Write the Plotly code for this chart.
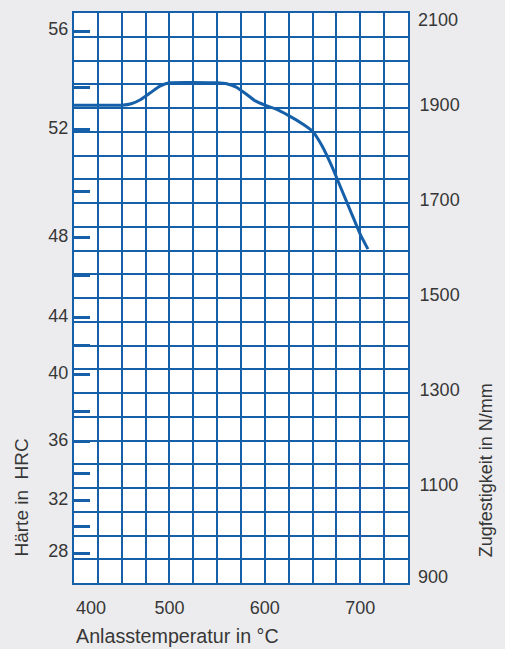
import plotly.graph_objects as go

# ---- data ----
temp_c = [400, 450, 460, 470, 480, 490, 500, 550, 560, 570, 580, 590, 600, 610,
          625, 640, 650, 660, 670, 680, 690, 700, 708]
tensile_mpa = [1906, 1906, 1909, 1918, 1932, 1946, 1953, 1953, 1951, 1944, 1930,
               1915, 1906, 1899, 1884, 1866, 1851, 1820, 1778, 1730, 1682, 1634, 1603]

x_tick_labels = [400, 500, 600, 700]
right_tick_labels = [900, 1100, 1300, 1500, 1700, 1900, 2100]
hrc_marks = [56, 54, 52, 50, 48, 46, 44, 42, 40, 38, 36, 34, 32, 30, 28]
hrc_positions_mpa = [2062, 1943, 1855, 1725, 1628, 1548, 1458, 1401, 1339, 1261,
                     1198, 1131, 1074, 1020, 963]
hrc_labelled = [56, 52, 48, 44, 40, 36, 32, 28]

BLUE = "rgb(22,96,170)"
TXT = "rgb(55,55,55)"
FONT = "Liberation Sans, Arial, sans-serif"
BG = "rgb(236,236,238)"

fig = go.Figure()
# empty trace so the left (hardness) axis is drawn
fig.add_trace(go.Scatter(x=[], y=[], xaxis="x", yaxis="y", mode="lines",
                         hoverinfo="skip", showlegend=False))
fig.add_trace(go.Scatter(
    x=temp_c, y=tensile_mpa, xaxis="x", yaxis="y2", mode="lines",
    line=dict(color=BLUE, width=3, shape="spline", smoothing=0.5),
    hoverinfo="skip", showlegend=False))

x_grid = list(range(400, 751, 25))
x_text = [str(v) if (v in x_tick_labels and v != x_tick_labels[0]) else "" for v in x_grid]
y_grid = list(range(900, 2101, 50))
y_text = [str(v) if (v in right_tick_labels and v not in (right_tick_labels[0], right_tick_labels[-1])) else ""
          for v in y_grid]
hrc_text = [str(v) if v in hrc_labelled else "" for v in hrc_marks]

fig.update_layout(
    width=505, height=649,
    margin=dict(l=74, r=97, t=11, b=66),
    paper_bgcolor=BG, plot_bgcolor="white",
    font=dict(family=FONT, size=18, color=TXT),
    xaxis=dict(range=[400, 750], tickmode="array", tickvals=x_grid, ticktext=x_text,
               showgrid=True, gridcolor=BLUE, gridwidth=2, ticks="",
               showline=True, linecolor=BLUE, linewidth=2, mirror=True,
               zeroline=False, tickfont=dict(size=18, color=TXT), ticklabelstandoff=7),
    yaxis=dict(range=[900, 2100], tickmode="array", tickvals=hrc_positions_mpa,
               ticktext=hrc_text, showgrid=False, ticks="inside", ticklen=16,
               tickwidth=3, tickcolor=BLUE, showline=True, linecolor=BLUE,
               linewidth=2, zeroline=False, tickfont=dict(size=18, color=TXT),
               ticklabelshift=-2),
    yaxis2=dict(range=[900, 2100], overlaying="y", side="right", tickmode="array",
                tickvals=y_grid, ticktext=y_text, showgrid=True, gridcolor=BLUE,
                gridwidth=2, ticks="", showline=True, linecolor=BLUE, linewidth=2,
                zeroline=False, tickfont=dict(size=18, color=TXT), ticklabelstandoff=6,
                ticklabelshift=-3),
)

ann = []
# end labels shifted inward as in the original
ann.append(dict(x=x_tick_labels[0], xref="x", y=0, yref="paper", yanchor="top",
                xanchor="left", yshift=-13, text=str(x_tick_labels[0]), showarrow=False,
                font=dict(size=18, color=TXT)))
ann.append(dict(x=1, xref="paper", xshift=8, xanchor="left", y=right_tick_labels[-1], yref="y2",
                yanchor="top", yshift=5, text=str(right_tick_labels[-1]), showarrow=False,
                font=dict(size=18, color=TXT)))
ann.append(dict(x=1, xref="paper", xshift=8, xanchor="left", y=right_tick_labels[0], yref="y2",
                yanchor="bottom", yshift=-6, text=str(right_tick_labels[0]), showarrow=False,
                font=dict(size=18, color=TXT)))
# axis titles
ann.append(dict(x=0, xref="paper", xanchor="left", xshift=0, y=-0.0927, yref="paper",
                yanchor="middle", text="Anlasstemperatur in °C", showarrow=False,
                font=dict(size=19.7, color=TXT)))
ann.append(dict(x=-0.1557, xref="paper", xanchor="center", y=0.150, yref="paper",
                yanchor="middle", textangle=-90, text="Härte in\u00a0 HRC", showarrow=False,
                font=dict(size=19, color=TXT)))
ann.append(dict(x=1.2335, xref="paper", xanchor="center", y=0.1976, yref="paper",
                yanchor="middle", textangle=-90, text="Zugfestigkeit in N/mm", showarrow=False,
                font=dict(size=18, color=TXT)))
fig.update_layout(annotations=ann)

fig.write_html("out.html", config={"displayModeBar": False},
               post_script="document.body.style.margin='0';document.body.style.overflow='hidden';")
